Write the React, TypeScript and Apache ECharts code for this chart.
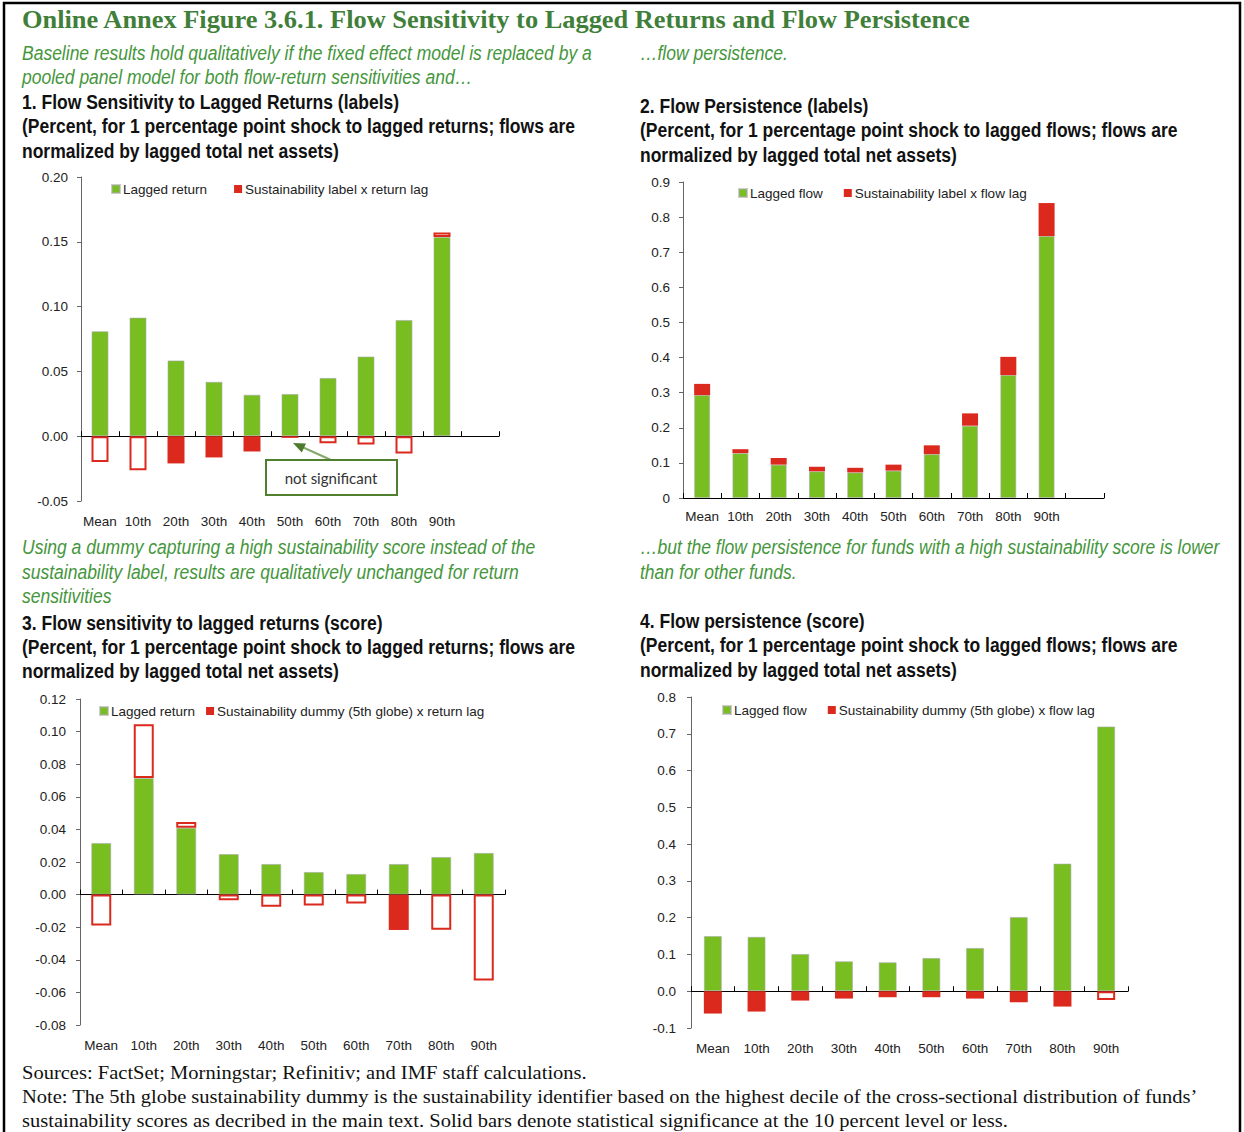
import React, { useEffect, useRef } from "react";
import * as echarts from "echarts";

const pctLabels = ["Mean", "10th", "20th", "30th", "40th", "50th", "60th", "70th", "80th", "90th"];
const padSlot = [""];

// Panel 1: flow sensitivity to lagged returns (labels)
const p1Lagged = [0.081, 0.0915, 0.0585, 0.042, 0.032, 0.0326, 0.045, 0.0615, 0.0897, 0.1538];
const p1Inter = [-0.02, -0.0262, -0.021, -0.0164, -0.0118, -0.0013, -0.0054, -0.0064, -0.0133, 0.0034];
const p1InterSig = [false, false, true, true, true, true, false, false, false, false];

// Panel 2: flow persistence (labels)
const p2Lagged = [0.293, 0.128, 0.095, 0.076, 0.073, 0.078, 0.125, 0.206, 0.35, 0.746];
const p2Inter = [0.032, 0.011, 0.019, 0.013, 0.013, 0.017, 0.025, 0.035, 0.052, 0.094];
const p2InterSig = [true, true, true, true, true, true, true, true, true, true];

// Panel 3: flow sensitivity to lagged returns (score)
const p3Lagged = [0.0317, 0.0715, 0.041, 0.0249, 0.0188, 0.0139, 0.0127, 0.0188, 0.0231, 0.0256];
const p3Inter = [-0.019, 0.033, 0.0035, -0.0035, -0.0074, -0.0067, -0.0055, -0.0217, -0.0215, -0.0527];
const p3InterSig = [false, false, false, false, false, false, false, true, false, false];

// Panel 4: flow persistence (score)
const p4Lagged = [0.15, 0.148, 0.1015, 0.0815, 0.0788, 0.0906, 0.1178, 0.202, 0.347, 0.72];
const p4Inter = [-0.0607, -0.0553, -0.0254, -0.02, -0.0163, -0.0163, -0.02, -0.03, -0.0417, -0.0236];
const p4InterSig = [true, true, true, true, true, true, true, true, true, false];

const GREEN = "#78BE20";
const RED = "#DC291E";
const SANS = '"Liberation Sans", Arial, sans-serif';
const SERIF = '"Liberation Serif", "DejaVu Serif", serif';
const TITLE_GREEN = "#3F7F3A";
const SUB_GREEN = "#45963C";
const AXIS_FS = 13.5;

type PanelCfg = {
  grid: { left: number; top: number; width: number; height: number };
  cats: string[];
  yMin: number;
  yMax: number;
  yInterval: number;
  yFmt: (v: number) => string;
  yMargin: number;
  xMargin: number;
  green: number[];
  red: number[];
  redSig: boolean[];
  greenName: string;
  redName: string;
  barWidth: number;
  legend: { left: number; top: number; gap: number };
};

const panels: PanelCfg[] = [
  {
    grid: { left: 81, top: 177, width: 418, height: 324 },
    cats: [...pctLabels, ...padSlot],
    yMin: -0.05, yMax: 0.2, yInterval: 0.05,
    yFmt: (v) => v.toFixed(2), yMargin: 13, xMargin: 13,
    green: p1Lagged, red: p1Inter, redSig: p1InterSig,
    greenName: "Lagged return", redName: "Sustainability label x return lag",
    barWidth: 17, legend: { left: 111, top: 182, gap: 27 },
  },
  {
    grid: { left: 683, top: 182, width: 421, height: 316 },
    cats: [...pctLabels, ...padSlot],
    yMin: 0, yMax: 0.9, yInterval: 0.1,
    yFmt: (v) => (Math.abs(v) < 1e-9 ? "0" : v.toFixed(1)), yMargin: 13, xMargin: 11,
    green: p2Lagged, red: p2Inter, redSig: p2InterSig,
    greenName: "Lagged flow", redName: "Sustainability label x flow lag",
    barWidth: 16, legend: { left: 738, top: 186, gap: 21 },
  },
  {
    grid: { left: 80, top: 699, width: 425, height: 326 },
    cats: pctLabels,
    yMin: -0.08, yMax: 0.12, yInterval: 0.02,
    yFmt: (v) => v.toFixed(2), yMargin: 14, xMargin: 13,
    green: p3Lagged, red: p3Inter, redSig: p3InterSig,
    greenName: "Lagged return", redName: "Sustainability dummy (5th globe) x return lag",
    barWidth: 20, legend: { left: 99, top: 704, gap: 11 },
  },
  {
    grid: { left: 691, top: 697, width: 437, height: 331 },
    cats: pctLabels,
    yMin: -0.1, yMax: 0.8, yInterval: 0.1,
    yFmt: (v) => v.toFixed(1), yMargin: 15, xMargin: 13,
    green: p4Lagged, red: p4Inter, redSig: p4InterSig,
    greenName: "Lagged flow", redName: "Sustainability dummy (5th globe) x flow lag",
    barWidth: 18, legend: { left: 722, top: 703, gap: 21 },
  },
];

let measureCtx: CanvasRenderingContext2D | null = null;
function measure(text: string, font: string) {
  if (!measureCtx) measureCtx = document.createElement("canvas").getContext("2d");
  if (!measureCtx) return 1;
  measureCtx.font = font;
  return measureCtx.measureText(text).width || 1;
}

type TextStyle = {
  fill: string;
  fontFamily: string;
  fontSize: number;
  fontStyle?: string;
  fontWeight?: string;
  scale: number;
};

function makeStyle(base: Omit<TextStyle, "scale">, refText: string, refWidth: number): TextStyle {
  const font = `${base.fontStyle || "normal"} ${base.fontWeight || "normal"} ${base.fontSize}px ${base.fontFamily}`;
  return { ...base, scale: refWidth / measure(refText, font) };
}

function txt(text: string, x: number, y: number, s: TextStyle) {
  const { scale, ...style } = s;
  return {
    type: "text",
    x,
    y,
    scaleX: scale,
    silent: true,
    style: { text, verticalAlign: "middle", ...style },
  };
}

function buildOption() {
  const grid: any[] = [];
  const xAxis: any[] = [];
  const yAxis: any[] = [];
  const series: any[] = [];
  const legend: any[] = [];

  panels.forEach((p, i) => {
    grid.push({ ...p.grid, containLabel: false });
    xAxis.push({
      type: "category",
      gridIndex: i,
      data: p.cats,
      position: "bottom",
      axisLine: { show: false, onZero: false },
      axisTick: { show: false },
      axisLabel: { fontFamily: SANS, fontSize: AXIS_FS, color: "#222", margin: p.xMargin, interval: 0 },
    });
    xAxis.push({
      type: "category",
      gridIndex: i,
      data: p.cats,
      position: "bottom",
      axisLine: { show: true, onZero: true, lineStyle: { color: "#000", width: 1 } },
      axisTick: { show: true, inside: true, length: 5, interval: 0, lineStyle: { color: "#000" } },
      axisLabel: { show: false },
    });
    yAxis.push({
      type: "value",
      gridIndex: i,
      min: p.yMin,
      max: p.yMax,
      interval: p.yInterval,
      splitLine: { show: false },
      axisLine: { show: true, lineStyle: { color: "#666" } },
      axisTick: { show: true, length: 4, lineStyle: { color: "#666" } },
      axisLabel: {
        fontFamily: SANS,
        fontSize: AXIS_FS,
        color: "#222",
        margin: p.yMargin,
        formatter: (v: number) => p.yFmt(v),
      },
    });
    series.push({
      type: "bar",
      name: p.greenName,
      xAxisIndex: i * 2,
      yAxisIndex: i,
      stack: "s" + i,
      barWidth: p.barWidth,
      itemStyle: { color: GREEN, borderColor: "rgba(170,170,170,0.6)", borderWidth: 1 },
      data: p.green,
    });
    series.push({
      type: "bar",
      name: p.redName,
      xAxisIndex: i * 2,
      yAxisIndex: i,
      stack: "s" + i,
      barWidth: p.barWidth,
      itemStyle: { color: RED },
      data: p.red.map((v, k) =>
        p.redSig[k]
          ? { value: v, itemStyle: { color: RED } }
          : { value: v, itemStyle: { color: "#fff", borderColor: RED, borderWidth: 2 } }
      ),
    });
    legend.push({
      data: [p.greenName, p.redName],
      left: p.legend.left,
      top: p.legend.top,
      icon: "rect",
      itemWidth: 8,
      itemHeight: 8,
      itemGap: p.legend.gap,
      selectedMode: false,
      padding: 0,
      textStyle: { fontFamily: SANS, fontSize: AXIS_FS, color: "#222", padding: [0, 0, 0, -2] },
    });
  });

  const titleStyle = makeStyle(
    { fill: TITLE_GREEN, fontFamily: SERIF, fontSize: 25, fontWeight: "bold" },
    "Online Annex Figure 3.6.1. Flow Sensitivity to Lagged Returns and Flow Persistence",
    950
  );
  const subStyle = makeStyle(
    { fill: SUB_GREEN, fontFamily: SANS, fontSize: 20, fontStyle: "italic" },
    "Baseline results hold qualitatively if the fixed effect model is replaced by a",
    570
  );
  const panelTitle = makeStyle(
    { fill: "#111", fontFamily: SANS, fontSize: 20, fontWeight: "bold" },
    "(Percent, for 1 percentage point shock to lagged returns; flows are",
    553
  );
  const footStyle = makeStyle(
    { fill: "#111", fontFamily: SERIF, fontSize: 19 },
    "Note: The 5th globe sustainability dummy is the sustainability identifier based on the highest decile of the cross-sectional distribution of funds\u2019",
    1176
  );

  const graphic: any[] = [
    {
      type: "rect",
      silent: true,
      shape: { x: 4, y: 3, width: 1236, height: 1140 },
      style: { fill: "none", stroke: "#000", lineWidth: 2.5 },
    },
    txt("Online Annex Figure 3.6.1. Flow Sensitivity to Lagged Returns and Flow Persistence", 22, 20, titleStyle),
    txt("Baseline results hold qualitatively if the fixed effect model is replaced by a", 22, 53, subStyle),
    txt("pooled panel model for both flow-return sensitivities and\u2026", 22, 77, subStyle),
    txt("\u2026flow persistence.", 640, 53, subStyle),
    txt("1. Flow Sensitivity to Lagged Returns (labels)", 22, 102, panelTitle),
    txt("(Percent, for 1 percentage point shock to lagged returns; flows are", 22, 126, panelTitle),
    txt("normalized by lagged total net assets)", 22, 151, panelTitle),
    txt("2. Flow Persistence (labels)", 640, 106, panelTitle),
    txt("(Percent, for 1 percentage point shock to lagged flows; flows are", 640, 130, panelTitle),
    txt("normalized by lagged total net assets)", 640, 155, panelTitle),
    txt("Using a dummy capturing a high sustainability score instead of the", 22, 547, subStyle),
    txt("sustainability label, results are qualitatively unchanged for return", 22, 572, subStyle),
    txt("sensitivities", 22, 596, subStyle),
    txt("\u2026but the flow persistence for funds with a high sustainability score is lower", 640, 547, subStyle),
    txt("than for other funds.", 640, 572, subStyle),
    txt("3. Flow sensitivity to lagged returns (score)", 22, 623, panelTitle),
    txt("(Percent, for 1 percentage point shock to lagged returns; flows are", 22, 647, panelTitle),
    txt("normalized by lagged total net assets)", 22, 671, panelTitle),
    txt("4. Flow persistence (score)", 640, 621, panelTitle),
    txt("(Percent, for 1 percentage point shock to lagged flows; flows are", 640, 645, panelTitle),
    txt("normalized by lagged total net assets)", 640, 670, panelTitle),
    txt("Sources: FactSet; Morningstar; Refinitiv; and IMF staff calculations.", 22, 1072, footStyle),
    txt("Note: The 5th globe sustainability dummy is the sustainability identifier based on the highest decile of the cross-sectional distribution of funds\u2019", 22, 1096, footStyle),
    txt("sustainability scores as decribed in the main text. Solid bars denote statistical significance at the 10 percent level or less.", 22, 1120, footStyle),
    {
      type: "line",
      silent: true,
      shape: { x1: 331, y1: 460, x2: 300, y2: 446 },
      style: { stroke: "#86A86A", lineWidth: 2 },
    },
    {
      type: "polygon",
      silent: true,
      shape: { points: [[293, 443], [306, 443.5], [301.8, 452.5]] },
      style: { fill: "#4E7A2E" },
    },
    {
      type: "rect",
      silent: true,
      shape: { x: 266, y: 460, width: 131, height: 35 },
      style: { fill: "#fff", stroke: "#4F7F2F", lineWidth: 2 },
    },
    {
      type: "text",
      silent: true,
      x: 331,
      y: 478,
      style: { text: "not significant", align: "center", verticalAlign: "middle", fill: "#333", fontFamily: "Lato, 'Open Sans', sans-serif", fontSize: 15 },
    },
  ];

  return {
    animation: false,
    backgroundColor: "#fff",
    grid,
    xAxis,
    yAxis,
    series,
    legend,
    graphic,
  };
}

export default function App() {
  const ref = useRef<HTMLDivElement>(null);
  useEffect(() => {
    if (!ref.current) return;
    const chart = echarts.init(ref.current, undefined, { renderer: "svg", width: 1244, height: 1132 });
    chart.setOption(buildOption() as any);
    return () => chart.dispose();
  }, []);
  return (
    <div
      ref={ref}
      style={{ position: "absolute", left: 0, top: 0, width: 1244, height: 1132, background: "#fff" }}
    />
  );
}
